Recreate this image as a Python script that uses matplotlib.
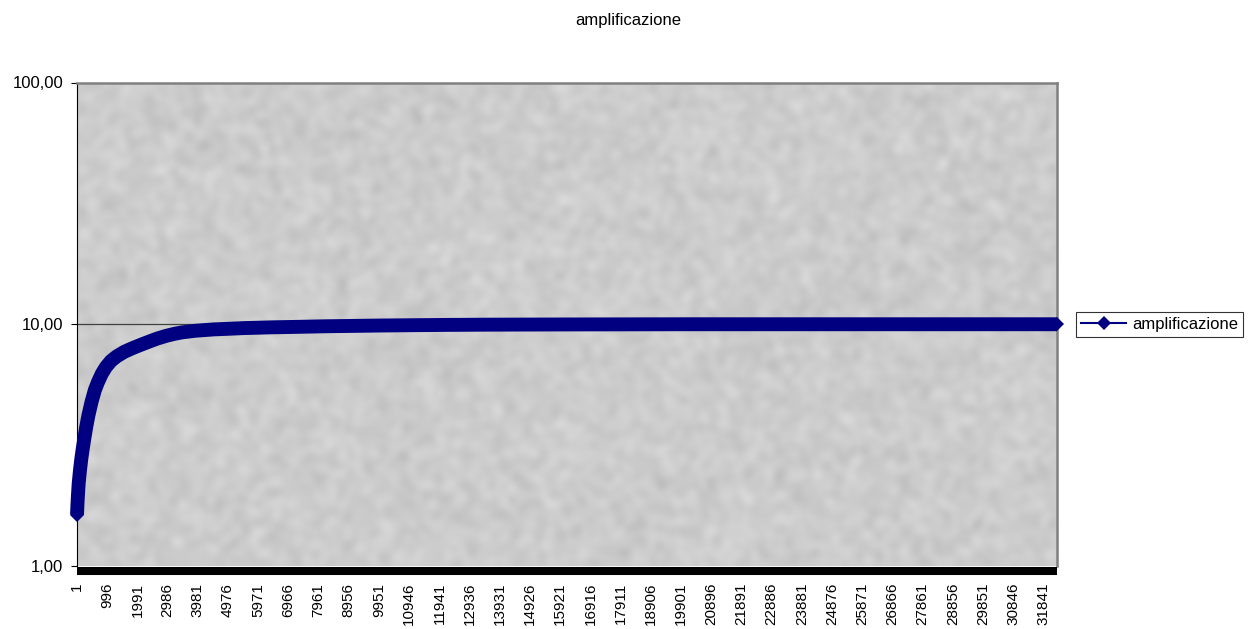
import numpy as np
import matplotlib
matplotlib.use("Agg")
import matplotlib.pyplot as plt
from matplotlib.lines import Line2D
from matplotlib.ticker import FixedLocator, NullLocator

plt.rcParams['font.family'] = ['Liberation Sans', 'DejaVu Sans']

# sample index -> amplification
campione = [1, 15, 30, 56, 100, 140, 188, 240, 300, 380, 484, 590, 700, 820, 955,
            1120, 1300, 1550, 1835, 2100, 2400, 2650, 2932, 3200, 3450, 3900, 4500,
            5500, 6400, 7348, 8200, 9000, 10000, 11071, 12300, 13510, 16000, 20000,
            26000, 32290]
amplificazione = [1.63, 1.80, 1.95, 2.20, 2.50, 2.76, 3.05, 3.36, 3.74, 4.22, 4.80, 5.35,
                  5.80, 6.25, 6.66, 7.05, 7.35, 7.68, 7.97, 8.22, 8.50, 8.73, 8.95, 9.12,
                  9.25, 9.40, 9.52, 9.64, 9.71, 9.76, 9.81, 9.84, 9.88, 9.91, 9.94, 9.96,
                  9.98, 10.0, 10.0, 10.0]
n_campioni = 32290
etichette_x = list(range(1, 31842, 995))
etichette_y = [1, 10, 100]

fig = plt.figure(figsize=(12.49, 6.29), dpi=100)
ax = fig.add_axes([77 / 1249, 1 - 566 / 629, 980 / 1249, (566 - 82.5) / 629])
ax.set_yscale('log')
ax.set_xlim(0, n_campioni)
ax.set_ylim(1, 100)

# grey marble-like plot area
rng = np.random.default_rng(3)
tex = rng.normal(0, 1, (160, 330))
k = np.ones(3) / 3
for _ in range(2):
    tex = np.apply_along_axis(lambda r: np.convolve(r, k, mode='same'), 1, tex)
    tex = np.apply_along_axis(lambda c: np.convolve(c, k, mode='same'), 0, tex)
tex = 204 + tex / tex.std() * 4
tex = np.clip(tex, 0, 255) / 255
ax.imshow(np.dstack([tex, tex, tex]), extent=[0, 1, 0, 1], transform=ax.transAxes,
          aspect='auto', interpolation='bicubic', zorder=0)

ax.axhline(10, color='#404040', lw=0.9, zorder=1)

ax.plot(campione, amplificazione, color='#000080', lw=10, solid_capstyle='butt',
        solid_joinstyle='round', marker='D', markersize=7.1, markevery=[0, -1],
        markeredgewidth=0, zorder=3, clip_on=False)

# borders
ax.spines['left'].set_color('black')
ax.spines['left'].set_linewidth(0.8)
for s in ('top', 'right'):
    ax.spines[s].set_color('#808080')
    ax.spines[s].set_linewidth(1.8)
ax.spines['bottom'].set_color('black')
ax.spines['bottom'].set_linewidth(5.8)
ax.spines['bottom'].set_capstyle('butt')
ax.spines['bottom'].set_position(('outward', 3.5))

ax.yaxis.set_major_locator(FixedLocator(etichette_y))
ax.yaxis.set_minor_locator(NullLocator())
ax.set_yticklabels(['1,00', '10,00', '100,00'])
ax.tick_params(axis='y', direction='out', length=4.3, width=0.8, pad=5.5, labelsize=12)

ax.xaxis.set_major_locator(FixedLocator(etichette_x))
ax.xaxis.set_minor_locator(NullLocator())
ax.set_xticklabels([str(v) for v in etichette_x], rotation=90)
ax.tick_params(axis='x', length=0, pad=8.5, labelsize=11)

fig.text(628 / 1249, 1 - 20 / 629, 'amplificazione', ha='center', va='center', fontsize=12)

handle = Line2D([], [], color='#000080', lw=1.5, marker='D', markersize=7, markeredgewidth=0)
leg = fig.legend([handle], ['amplificazione'], loc='center left',
                 bbox_to_anchor=(1076 / 1249, 1 - 324.5 / 629), fontsize=12,
                 frameon=True, fancybox=False, shadow=False, borderpad=0.3,
                 handlelength=2.7, handletextpad=0.35, borderaxespad=0)
leg.get_frame().set_edgecolor('black')
leg.get_frame().set_linewidth(0.8)

fig.savefig('out.png', dpi=100, facecolor='white')
